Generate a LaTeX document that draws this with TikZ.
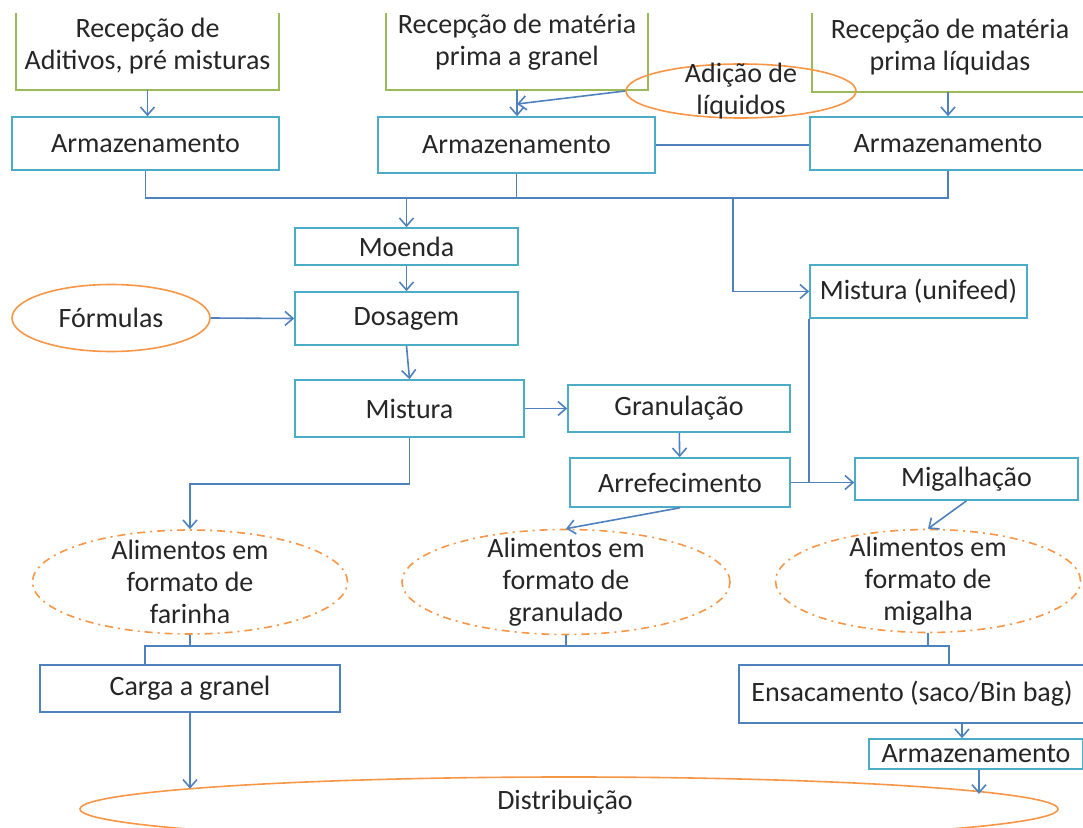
\documentclass[tikz,border=0pt]{standalone}
\usepackage{fontspec}
\setmainfont{Carlito}
\usepackage{tikz}
\usetikzlibrary{shapes.geometric, arrows.meta}
\definecolor{boxcyan}{HTML}{4BACC6}
\definecolor{boxgreen}{HTML}{9BBB59}
\definecolor{boxblue}{HTML}{4F81BD}
\definecolor{ellorange}{HTML}{F79646}
\definecolor{linkblue}{HTML}{4F81BD}

\begin{document}
\begin{tikzpicture}[x=0.5pt, y=-0.5pt,
  sz/.style 2 args={minimum width=#1*0.5pt, minimum height=#2*0.5pt},
  txt/.style={font=\fontsize{14}{16}\selectfont, text=black!85, inner sep=0pt, align=center},
  cbox/.style={txt, draw=boxcyan, line width=0.8pt, fill=white},
  bbox/.style={txt, draw=boxblue, line width=0.8pt, fill=white},
  gbox/.style={txt},
  oell/.style={ellipse, draw=ellorange, line width=0.8pt, inner sep=0pt},
  dell/.style={oell, dash pattern=on 4pt off 2.5pt on 1pt off 2.5pt},
  ln/.style={draw=linkblue, line width=0.8pt},
  arr/.style={ln, -{Straight Barb[length=4pt, width=7pt]}}]
 \useasboundingbox (0,0) rectangle (1083,828);
 \node[gbox, sz={263}{88}] (rec1) at (147.5,46) {Recepção de\\Aditivos, pré misturas};
 \node[gbox, sz={262}{95}] (rec2) at (517,42.5) {Recepção de matéria\\prima a granel};
 \node[gbox, sz={288}{89}] (rec3) at (950,47.5) {Recepção de matéria\\prima líquidas};
 \begin{scope}
  \clip (0,14) rectangle (1083,828);
  \draw[boxgreen, line width=1pt] (rec1.north west) rectangle (rec1.south east);
  \draw[boxgreen, line width=1pt] (rec2.north west) rectangle (rec2.south east);
  \draw[boxgreen, line width=1pt] ([xshift=3pt]rec3.north west) rectangle (rec3.south east);
 \end{scope}
 \node[cbox, sz={267}{53}] (arm1) at (145.5,143.5) {Armazenamento};
 \node[cbox, sz={277}{56}] (arm2) at (516.5,145) {Armazenamento};
 \node[cbox, sz={276}{53}] (arm3) at (948,143.5) {Armazenamento};
 \node[oell, sz={230}{54}] (adicao) at (741,91) {};
 \node[txt] at (adicao) {Adição de\\líquidos};
 \node[cbox, sz={223}{37}] (moenda) at (406.5,246.5) {Moenda};
 \node[cbox, sz={223}{53}] (dosagem) at (406.5,318.5) {Dosagem};
 \node[oell, txt, sz={198}{67}] (formulas) at (111,318) {Fórmulas};
 \node[cbox, sz={229}{57}] (mistura) at (409.5,408.5) {Mistura};
 \node[cbox, sz={222}{47}] (granul) at (679,408.5) {Granulação};
 \node[cbox, sz={220}{49}] (arref) at (680,482.5) {Arrefecimento};
 \node[cbox, sz={223}{42}] (migal) at (966.5,479) {Migalhação};
 \node[cbox, sz={217}{53}] (unifeed) at (918.5,291.5) {Mistura (unifeed)};
 \node[dell, sz={315}{104}] (farinha) at (190,582) {};
 \node[txt] at (farinha) {Alimentos em\\formato de\\farinha};
 \node[dell, sz={328}{105}] (granulado) at (566,582) {};
 \node[txt] at (granulado) {Alimentos em\\formato de\\granulado};
 \node[dell, sz={305}{103}] (migalha) at (928,581) {};
 \node[txt] at (migalha) {Alimentos em\\formato de\\migalha};
 \node[bbox, sz={300}{47}] (carga) at (190,688.5) {Carga a granel};
 \node[bbox, sz={346}{58}] (ensac) at (912,694) {Ensacamento (saco/Bin bag)};
 \node[cbox, sz={214}{30}] (arm4) at (976,754) {Armazenamento};
 \node[oell, sz={978}{64}] (distrib) at (569,809) {};
 \node[txt] at (565,802) {Distribuição};
 \coordinate (join) at (517,104);
 \coordinate (tap) at (733,197);
 \coordinate (bl) at (145,646);
 \coordinate (br) at (949,646);
 \draw[arr] (rec1.south) -- (rec1.south |- arm1.north);
 \draw[arr] (rec2.south) -- (rec2.south |- arm2.north);
 \draw[arr] (arm3.north |- rec3.south) -- (arm3.north);
 \draw[arr] (adicao.west) -- (join);
 \draw[ln] (arm2.east) -- (arm2.east -| arm3.west);
 \draw[ln] (arm1.south) -- ++(0,27) -| (arm3.south);
 \draw[ln] (arm2.south) -- (arm2.south |- tap);
 \draw[arr] (moenda.north |- tap) -- (moenda.north);
 \draw[arr] (tap) |- (unifeed.west);
 \draw[arr] (moenda) -- (dosagem);
 \draw[arr] (dosagem.south) -- (mistura.north);
 \draw[arr] (formulas.east) -- (dosagem.west);
 \draw[arr] (mistura.east) -- (mistura.east -| granul.west);
 \draw[arr] (granul) -- (arref);
 \draw[arr] (arref.east) -- (migal.west |- arref.east);
 \draw[ln] (unifeed.south west) -- (unifeed.south west |- arref.east);
 \draw[arr] (mistura.south) -- ++(0,46) -| (farinha.north);
 \draw[arr] (arref.south) -- (granulado.north);
 \draw[arr] (migal.south) -- (migalha.north);
 \draw[ln] (farinha.south) -- (farinha.south |- bl);
 \draw[ln] (granulado.south) -- (granulado.south |- bl);
 \draw[ln] (migalha.south) -- (migalha.south |- bl);
 \draw[ln] (bl |- carga.north) -- (bl) -- (br) -- (br |- ensac.north);
 \draw[arr] (carga.south) -- (carga.south |- distrib.177);
 \draw[arr] ([xshift=-7pt]arm4.north |- ensac.south) -- ([xshift=-7pt]arm4.north);
 \draw[arr] ([xshift=1.5pt]arm4.south) -- ([xshift=1.5pt]arm4.south |- distrib.2.4);
\end{tikzpicture}
\end{document}
